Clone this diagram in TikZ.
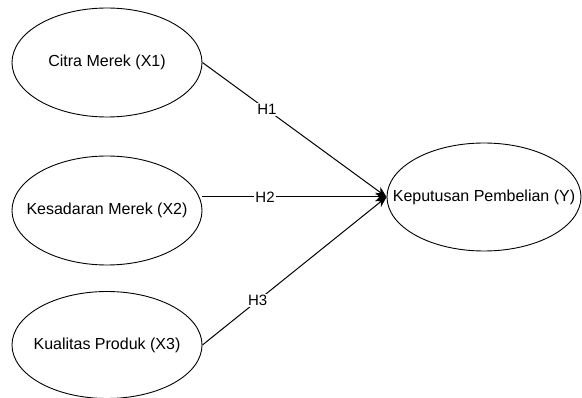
\documentclass[tikz,border=0pt]{standalone}
\usepackage{fontspec}
\setmainfont{Liberation Sans}
\usetikzlibrary{shapes.geometric,arrows.meta}

\tikzset{
  latent/.style={draw,ellipse,line width=0.9pt,minimum width=190pt,minimum height=109pt,
    inner xsep=-40pt,inner ysep=0pt,font=\fontsize{16}{19}\selectfont},
  path/.style={line width=1pt,-{Stealth[length=11pt,width=9pt]}},
  hyp/.style={fill=white,inner sep=1pt,font=\fontsize{15}{18}\selectfont}
}

\begin{document}
\begin{tikzpicture}[x=1pt,y=-1pt]
\useasboundingbox (0,0) rectangle (582,398);

\node[latent] (X1) at (107,62.5) {Citra Merek (X1)};
\node[latent] (X2) at (107,210.5) {Kesadaran Merek (X2)};
\node[latent,minimum height=107pt] (X3) at (107,345) {Kualitas Produk (X3)};
\node[latent,minimum width=194pt,minimum height=108pt] (Y) at (484,197) {Keputusan Pembelian (Y)};

\draw[path] (X1.east) -- node[hyp,pos=0.35] (h1) {H1} (Y.west);
\draw[path] (X2.east |- Y.west) -- node[hyp,pos=0.34] (h2) {H2} (Y.west);
\draw[path] (X3.east) -- node[hyp,pos=0.3] (h3) {H3} (Y.west);

\end{tikzpicture}
\end{document}
